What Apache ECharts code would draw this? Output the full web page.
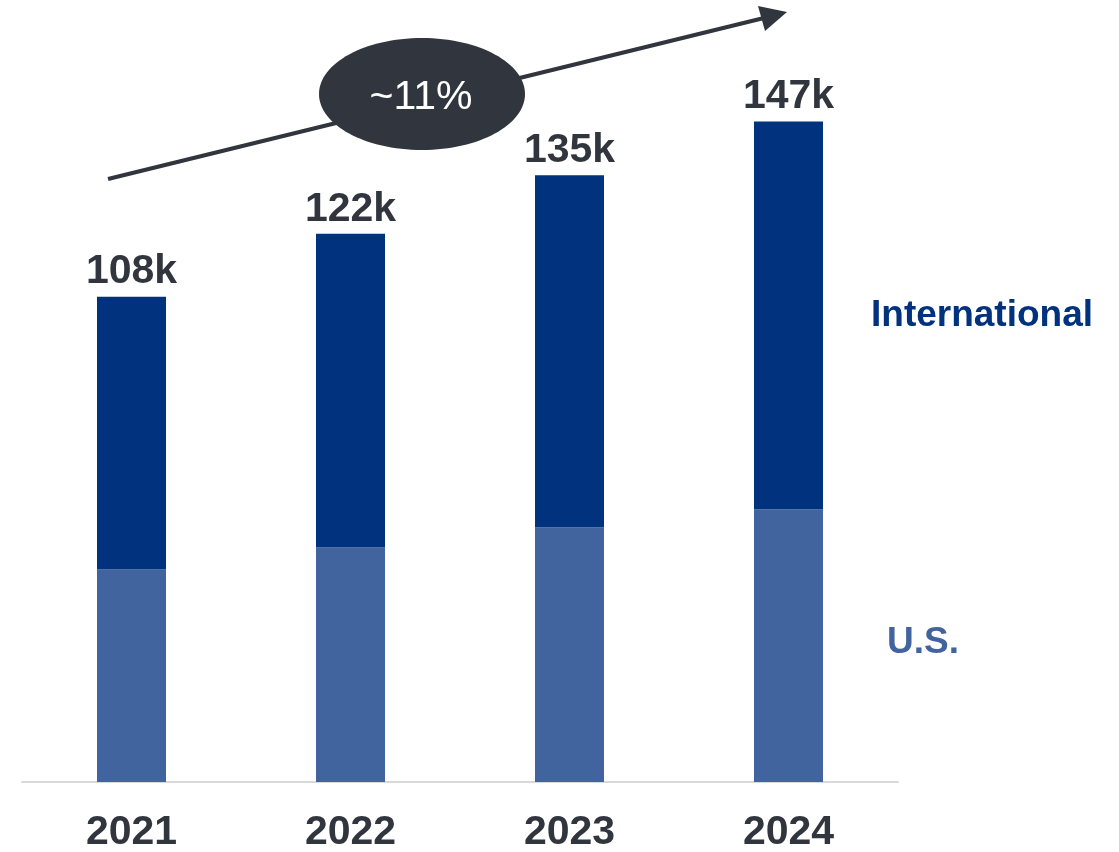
<!DOCTYPE html>
<html>
<head>
<meta charset="utf-8">
<script src="https://cdn.jsdelivr.net/npm/echarts@6/dist/echarts.min.js"></script>
<style>
  html, body { margin: 0; padding: 0; background: #ffffff; }
  #chart { width: 1119px; height: 852px; }
</style>
</head>
<body>
<div id="chart"></div>
<script>
// Headcount by year (thousands), split into U.S. and International
const years = ['2021', '2022', '2023', '2024'];
const usValues = [47.3, 52.2, 56.7, 60.7];
const intlValues = [60.7, 69.8, 78.3, 86.3];
const growthLabel = '~11%';
const seriesNames = ['U.S.', 'International'];

const FONT = '"Liberation Sans", Arial, sans-serif';
const DARK = '#31353d';
const INTL_COLOR = '#00327d';
const US_COLOR = '#41649e';

const chart = echarts.init(document.getElementById('chart'), null, { renderer: 'canvas' });

chart.setOption({
  animation: false,
  backgroundColor: '#ffffff',
  textStyle: { fontFamily: FONT },
  grid: {
    left: 22, right: 221, top: 63, bottom: 70,
    containLabel: false,
    outerBoundsMode: 'none'
  },
  xAxis: {
    type: 'category',
    data: years,
    axisLine: { show: true, lineStyle: { color: '#d9d9d9', width: 2 } },
    axisTick: { show: false },
    axisLabel: { color: DARK, fontSize: 41, fontWeight: 'bold', fontFamily: FONT, margin: 30 }
  },
  yAxis: {
    type: 'value',
    min: 0,
    max: 160,
    show: false,
    splitLine: { show: false }
  },
  series: [
    {
      name: seriesNames[0],
      type: 'bar',
      stack: 'total',
      data: usValues,
      barWidth: 69,
      itemStyle: { color: US_COLOR }
    },
    {
      name: seriesNames[1],
      type: 'bar',
      stack: 'total',
      data: intlValues,
      barWidth: 69,
      itemStyle: { color: INTL_COLOR },
      label: {
        show: true,
        position: 'top',
        distance: 4,
        color: DARK,
        fontSize: 41,
        fontWeight: 'bold',
        fontFamily: FONT,
        formatter: p => Math.round(usValues[p.dataIndex] + intlValues[p.dataIndex]) + 'k'
      }
    }
  ],
  graphic: [
    // growth arrow
    {
      type: 'line',
      shape: { x1: 108, y1: 179, x2: 768, y2: 17 },
      style: { stroke: DARK, lineWidth: 4 },
      z: 10
    },
    {
      type: 'polygon',
      shape: { points: [[787, 12], [758, 6], [765, 31]] },
      style: { fill: DARK },
      z: 10
    },
    // growth rate badge
    {
      type: 'ellipse',
      shape: { cx: 422, cy: 94, rx: 103, ry: 56 },
      style: { fill: DARK },
      z: 11
    },
    {
      type: 'text',
      x: 421,
      y: 98,
      style: {
        text: growthLabel,
        fill: '#ffffff',
        font: '41px ' + FONT,
        textAlign: 'center',
        textVerticalAlign: 'middle'
      },
      z: 12
    },
    // series labels on the right
    {
      type: 'text',
      x: 871,
      y: 316,
      style: {
        text: seriesNames[1],
        fill: INTL_COLOR,
        font: 'bold 37px ' + FONT,
        textAlign: 'left',
        textVerticalAlign: 'middle'
      }
    },
    {
      type: 'text',
      x: 887,
      y: 643,
      style: {
        text: seriesNames[0],
        fill: US_COLOR,
        font: 'bold 37px ' + FONT,
        textAlign: 'left',
        textVerticalAlign: 'middle'
      }
    }
  ]
});
</script>
</body>
</html>
